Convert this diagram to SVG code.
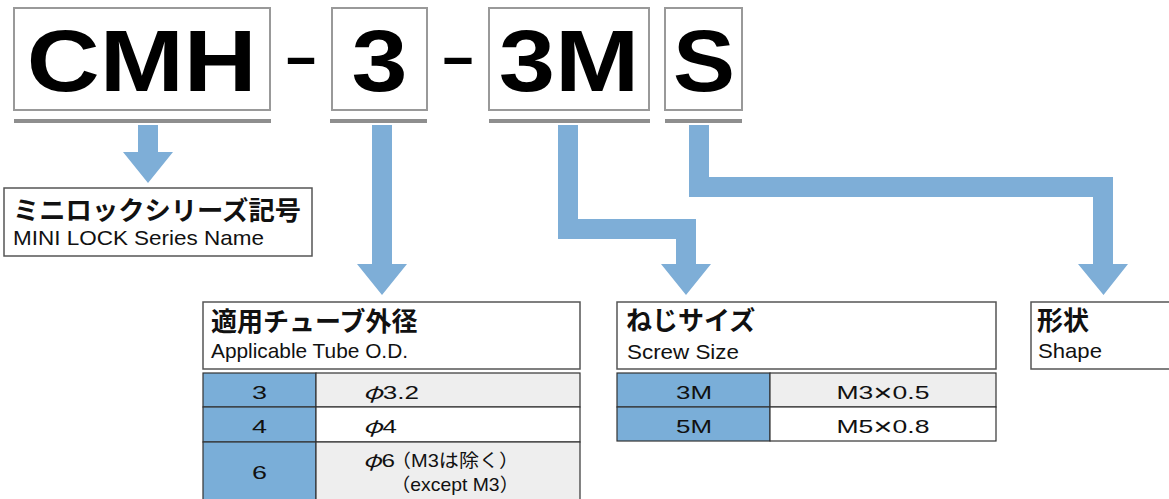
<svg xmlns="http://www.w3.org/2000/svg" width="1169" height="499" viewBox="0 0 1169 499">
<style>
.code{fill:#fff;stroke:#999;stroke-width:2}
.ul{fill:#8e8e8e}
.big{font-family:"Liberation Sans",Arial,sans-serif;font-weight:700;font-size:88px;fill:#000}
.dash{font-family:"Liberation Sans",Arial,sans-serif;font-weight:400;font-size:80px;fill:#000}
.hbox{fill:#fff;stroke:#555;stroke-width:1.5}
.jp{font-family:"Noto Sans CJK JP",sans-serif;font-weight:700;font-size:26px;fill:#111}
.en{font-family:"Liberation Sans",Arial,"Noto Sans CJK JP",sans-serif;font-size:21px;fill:#111}
.conn{fill:#7eaed7}
.cb{fill:#7aaed8;stroke:#333;stroke-width:1.2}
.cg{fill:#eeeeee;stroke:#333;stroke-width:1.2}
.cw{fill:#ffffff;stroke:#333;stroke-width:1.2}
.t{font-family:"Liberation Sans",Arial,"Noto Sans CJK JP",sans-serif;font-size:18.5px;fill:#111}
.phi{font-family:"Noto Sans CJK JP",sans-serif;font-style:italic}
.x{font-size:23px}
</style>

<g id="code">
  <g id="code-CMH">
    <rect class="code" x="14" y="8" width="256" height="102"/>
    <rect class="ul" x="14" y="119" width="257" height="4"/>
    <text class="big" x="26.8" y="90.7" textLength="230" lengthAdjust="spacingAndGlyphs">CMH</text>
  </g>
  <text id="dash1" class="dash" x="283" y="81.6" textLength="36" lengthAdjust="spacingAndGlyphs">-</text>
  <g id="code-3">
    <rect class="code" x="332" y="8" width="95" height="102"/>
    <rect class="ul" x="330" y="119" width="97" height="4"/>
    <text class="big" x="351.5" y="90.7" textLength="56" lengthAdjust="spacingAndGlyphs">3</text>
  </g>
  <text id="dash2" class="dash" x="439.5" y="81.6" textLength="37" lengthAdjust="spacingAndGlyphs">-</text>
  <g id="code-3M">
    <rect class="code" x="489" y="8" width="160" height="102"/>
    <rect class="ul" x="489" y="119" width="161" height="4"/>
    <text class="big" x="498.7" y="90.7" textLength="140.5" lengthAdjust="spacingAndGlyphs">3M</text>
  </g>
  <g id="code-S">
    <rect class="code" x="665" y="8" width="77" height="102"/>
    <rect class="ul" x="665" y="119" width="77" height="4"/>
    <text class="big" x="673" y="90.7" textLength="62" lengthAdjust="spacingAndGlyphs">S</text>
  </g>
</g>

<g id="connectors">
  <polygon class="conn" points="138,125 158,125 158,152 173,152 148,183 123,152 138,152"/>
  <polygon class="conn" points="372,125 392,125 392,264 407,264 382,295 357,264 372,264"/>
  <polygon class="conn" points="558,125 578,125 578,219 696,219 696,264 711,264 686,295 661,264 676,264 676,239 558,239"/>
  <polygon class="conn" points="689,125 709,125 709,177 1113,177 1113,264 1128,264 1103.5,295 1078,264 1093,264 1093,197 689,197"/>
</g>

<g id="node-series">
  <rect class="hbox" x="4" y="188" width="308" height="68"/>
  <text class="jp" x="13" y="219.5" textLength="288" lengthAdjust="spacingAndGlyphs">ミニロックシリーズ記号</text>
  <text class="en" x="13" y="245" textLength="251" lengthAdjust="spacingAndGlyphs">MINI LOCK Series Name</text>
</g>

<g id="node-tube">
  <rect class="hbox" x="203" y="302" width="377" height="67"/>
  <text class="jp" x="211" y="330.5">適用チューブ外径</text>
  <text class="en" x="211" y="358.3" textLength="197" lengthAdjust="spacingAndGlyphs">Applicable Tube O.D.</text>
  <rect class="cb" x="203" y="373" width="113" height="34"/>
  <rect class="cg" x="316" y="373" width="264" height="34"/>
  <rect class="cb" x="203" y="407" width="113" height="35"/>
  <rect class="cw" x="316" y="407" width="264" height="35"/>
  <rect class="cb" x="203" y="442" width="113" height="70"/>
  <rect class="cg" x="316" y="442" width="264" height="70"/>
  <text class="t" x="252" y="399" textLength="15" lengthAdjust="spacingAndGlyphs">3</text>
  <text class="t" x="252" y="433" textLength="15" lengthAdjust="spacingAndGlyphs">4</text>
  <text class="t" x="252" y="479" textLength="15" lengthAdjust="spacingAndGlyphs">6</text>
  <text class="t" x="363" y="399" textLength="56" lengthAdjust="spacingAndGlyphs"><tspan class="phi">φ</tspan>3.2</text>
  <text class="t" x="363" y="433" textLength="34" lengthAdjust="spacingAndGlyphs"><tspan class="phi">φ</tspan>4</text>
  <text class="t" x="363" y="467" textLength="32" lengthAdjust="spacingAndGlyphs"><tspan class="phi">φ</tspan>6</text>
  <text class="t" x="391" y="467" textLength="128" lengthAdjust="spacingAndGlyphs">（M3は除く）</text>
  <text class="t" x="391" y="490.5" textLength="128" lengthAdjust="spacingAndGlyphs">（except M3）</text>
</g>

<g id="node-screw">
  <rect class="hbox" x="617" y="302" width="379" height="67"/>
  <text class="jp" x="626" y="330">ねじサイズ</text>
  <text class="en" x="627" y="359" textLength="112" lengthAdjust="spacingAndGlyphs">Screw Size</text>
  <rect class="cb" x="617" y="373" width="153" height="34"/>
  <rect class="cg" x="770" y="373" width="226" height="34"/>
  <rect class="cb" x="617" y="407" width="153" height="34"/>
  <rect class="cw" x="770" y="407" width="226" height="34"/>
  <text class="t" x="676" y="399" textLength="36" lengthAdjust="spacingAndGlyphs">3M</text>
  <text class="t" x="676" y="433" textLength="36" lengthAdjust="spacingAndGlyphs">5M</text>
  <text class="t" x="836.5" y="399" textLength="93" lengthAdjust="spacingAndGlyphs">M3<tspan class="x" dy="2">×</tspan><tspan dy="-2">0.5</tspan></text>
  <text class="t" x="836.5" y="433" textLength="93" lengthAdjust="spacingAndGlyphs">M5<tspan class="x" dy="2">×</tspan><tspan dy="-2">0.8</tspan></text>
</g>

<g id="node-shape">
  <rect class="hbox" x="1031" y="302" width="150" height="67"/>
  <text class="jp" x="1037" y="330">形状</text>
  <text class="en" x="1038" y="358" textLength="64" lengthAdjust="spacingAndGlyphs">Shape</text>
</g>
</svg>
